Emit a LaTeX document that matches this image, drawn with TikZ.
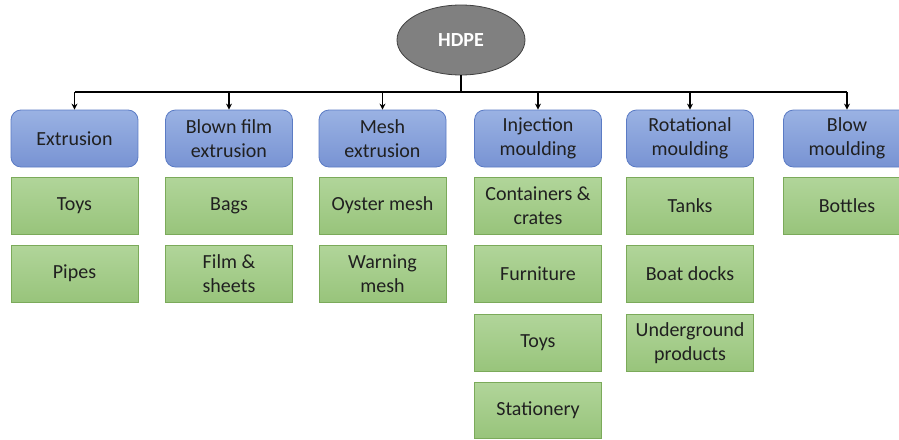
\documentclass[tikz,border=0pt]{standalone}
\usepackage{fontspec}
\setmainfont{Carlito}
\usetikzlibrary{shapes.geometric,arrows.meta}
\definecolor{hdtop}{HTML}{9AB2E3}
\definecolor{hdbot}{HTML}{7893D3}
\definecolor{hdline}{HTML}{5B7BC4}
\definecolor{grtop}{HTML}{B1D59A}
\definecolor{grbot}{HTML}{98C47B}
\definecolor{grline}{HTML}{7BAA5A}
\definecolor{txt}{HTML}{202020}
\tikzset{
  hdr/.style={draw=hdline, line width=0.8pt, rounded corners=10pt, top color=hdtop, bottom color=hdbot,
    minimum width=127pt, minimum height=57pt, align=center, text=txt, inner sep=0pt,
    font=\fontsize{20}{23.5}\selectfont},
  leaf/.style={draw=grline, line width=0.8pt, top color=grtop, bottom color=grbot,
    minimum width=127pt, minimum height=57pt, align=center, text=txt, inner sep=0pt,
    font=\fontsize{20}{23.5}\selectfont},
  conn/.style={line width=1.4pt, black},
  arr/.style={line width=1.2pt, black, -{Stealth[length=6pt,width=6pt]}},
}
\begin{document}
\begin{tikzpicture}[x=1pt,y=-1pt]
\useasboundingbox (0,0) rectangle (899,439);
\clip (0,0) rectangle (899,439);
% root
\node[ellipse, draw=black!75, line width=0.8pt, fill=black!50, minimum width=128pt, minimum height=70pt,
  inner sep=0pt, text=white, font=\fontsize{20}{24}\selectfont\bfseries] (hdpe) at (461,40) {HDPE};
% headers
\node[hdr] (h1) at (74.5,138.5) {Extrusion};
\node[hdr] (h2) at (229,138.5) {Blown film\\extrusion};
\node[hdr] (h3) at (382.5,138.5) {Mesh\\extrusion};
\node[hdr] (h4) at (538,138.5) {Injection\\moulding};
\node[hdr] (h5) at (690,138.5) {Rotational\\moulding};
\node[hdr] (h6) at (847,138.5) {Blow\\moulding};
% leaves
\node[leaf] (l11) at (74.5,205.5) {Toys};
\node[leaf] (l12) at (74.5,273.5) {Pipes};
\node[leaf] (l21) at (229,205.5) {Bags};
\node[leaf] (l22) at (229,273.5) {Film \&\\sheets};
\node[leaf] (l31) at (382.5,205.5) {Oyster mesh};
\node[leaf] (l32) at (382.5,273.5) {Warning\\mesh};
\node[leaf] (l41) at (538,205.5) {Containers \&\\crates};
\node[leaf] (l42) at (538,273.5) {Furniture};
\node[leaf] (l43) at (538,343) {Toys};
\node[leaf, minimum height=56pt] (l44) at (538,410) {Stationery};
\node[leaf] (l51) at (690,205.5) {Tanks};
\node[leaf] (l52) at (690,273.5) {Boat docks};
\node[leaf] (l53) at (690,343) {Underground\\products};
\node[leaf] (l61) at (847,205.5) {Bottles};
% bus
\coordinate (b0) at (461,92);
\coordinate (b1) at (74.5,92);
\coordinate (b2) at (229,92);
\coordinate (b3) at (382.5,92);
\coordinate (b4) at (538,92);
\coordinate (b5) at (690,92);
\coordinate (b6) at (847,92);
\draw[conn] (hdpe.south) -- (b0);
\draw[conn] (b1) -- (b6);
\foreach \i in {1,...,6} { \draw[arr] (b\i) -- (h\i.north); }
\end{tikzpicture}
\end{document}
